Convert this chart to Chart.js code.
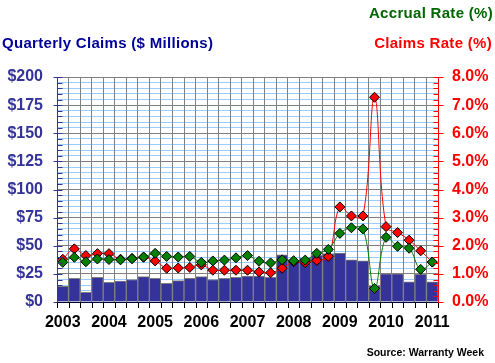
<!DOCTYPE html>
<html>
<head>
<meta charset="utf-8">
<script src="https://cdn.jsdelivr.net/npm/chart.js@4"></script>
<style>
  body { margin: 0; background: #fff; }
  #wrap { position: relative; width: 495px; height: 363px; }
  .lbl { position: absolute; font-family: "Liberation Sans", Arial, sans-serif; font-weight: bold; white-space: nowrap; line-height: 1; }
  .ttl { font-size: 15px; letter-spacing: 0.3px; }
</style>
</head>
<body>
<div id="wrap">
  <canvas id="myChart" width="495" height="363"></canvas>
  <div class="lbl ttl" style="right:2px; top:5px; color:#006600;">Accrual Rate (%)</div>
  <div class="lbl ttl" style="right:3px; top:35px; color:#ff0000;">Claims Rate (%)</div>
  <div class="lbl ttl" style="left:2px; top:35px; color:#000099;">Quarterly Claims ($ Millions)</div>
  <div class="lbl" style="right:11px; top:347px; font-size:10.5px; color:#000;">Source: Warranty Week</div>
</div>
<script>
// quarters 2003 Q1 .. 2011 Q1
var quarters = [
  '2003 Q1','2003 Q2','2003 Q3','2003 Q4',
  '2004 Q1','2004 Q2','2004 Q3','2004 Q4',
  '2005 Q1','2005 Q2','2005 Q3','2005 Q4',
  '2006 Q1','2006 Q2','2006 Q3','2006 Q4',
  '2007 Q1','2007 Q2','2007 Q3','2007 Q4',
  '2008 Q1','2008 Q2','2008 Q3','2008 Q4',
  '2009 Q1','2009 Q2','2009 Q3','2009 Q4',
  '2010 Q1','2010 Q2','2010 Q3','2010 Q4',
  '2011 Q1'
];

// quarterly claims ($ millions)
var claims = [14, 21, 8.5, 22, 17.5, 18.5, 20, 22.5, 21, 16.5, 19, 21, 22.5, 20, 21, 22,
  23, 23, 22, 42, 37, 39, 41.5, 43, 43.5, 37.5, 36.5, 14.5, 25, 25, 18, 24.5, 18];

// claims rate (%)
var claimsRate = [1.52, 1.89, 1.65, 1.72, 1.72, 1.52, 1.55, 1.59, 1.46, 1.20, 1.21, 1.23, 1.32, 1.13, 1.13, 1.13,
  1.13, 1.07, 1.04, 1.20, 1.43, 1.40, 1.48, 1.62, 3.38, 3.06, 3.06, 7.28, 2.68, 2.47, 2.20, 1.82, 1.42];

// accrual rate (%)
var accrualRate = [1.41, 1.59, 1.43, 1.53, 1.51, 1.50, 1.54, 1.60, 1.73, 1.62, 1.60, 1.62, 1.41, 1.46, 1.49, 1.57,
  1.65, 1.45, 1.39, 1.50, 1.47, 1.49, 1.73, 1.87, 2.44, 2.64, 2.60, 0.48, 2.30, 1.98, 1.91, 1.16, 1.42];

var tickFont = { family: 'Liberation Sans', size: 16, weight: 'bold' };

// axis lines and tick marks like the original
var axisTicks = {
  id: 'axisTicks',
  afterDatasetsDraw: function(chart) {
    var ctx = chart.ctx, a = chart.chartArea;
    var y = chart.scales.y, y2 = chart.scales.y2, x = chart.scales.x;
    ctx.save();
    ctx.lineWidth = 1;

    // bottom ticks at each quarter boundary
    ctx.strokeStyle = '#000';
    ctx.beginPath();
    for (var i = 0; i <= quarters.length; i++) {
      var px = Math.round(x.getPixelForValue(i - 0.5)) + 0.5;
      ctx.moveTo(px, a.bottom);
      ctx.lineTo(px, a.bottom + 6);
    }
    ctx.stroke();

    // left axis
    ctx.strokeStyle = '#333399';
    ctx.beginPath();
    var lx = Math.round(a.left) + 0.5;
    ctx.moveTo(lx, a.top); ctx.lineTo(lx, a.bottom);
    for (var v = 0; v <= 200; v += 5) {
      var py = Math.round(y.getPixelForValue(v)) + 0.5;
      if (v % 25 === 0) { ctx.moveTo(lx - 4, py); ctx.lineTo(lx + 5, py); }
      else { ctx.moveTo(lx, py); ctx.lineTo(lx + 5, py); }
    }
    ctx.stroke();

    // right axis
    ctx.strokeStyle = '#ff0000';
    ctx.beginPath();
    var rx = Math.round(a.right) + 0.5;
    ctx.moveTo(rx, a.top); ctx.lineTo(rx, a.bottom);
    for (var k = 0; k <= 40; k++) {
      var qy = Math.round(y2.getPixelForValue(k * 0.2)) + 0.5;
      if (k % 5 === 0) { ctx.moveTo(rx - 5, qy); ctx.lineTo(rx + 5, qy); }
      else { ctx.moveTo(rx - 5, qy); ctx.lineTo(rx, qy); }
    }
    ctx.stroke();

    // bottom axis line
    ctx.strokeStyle = '#000033';
    ctx.beginPath();
    var by = Math.round(a.bottom) + 0.5;
    ctx.moveTo(a.left, by); ctx.lineTo(a.right, by);
    ctx.stroke();
    ctx.restore();
  }
};

var ctx = document.getElementById('myChart').getContext('2d');
var myChart = new Chart(ctx, {
  data: {
    labels: quarters,
    datasets: [{
      type: 'line',
      label: 'Accrual Rate (%)',
      data: accrualRate,
      yAxisID: 'y2',
      order: 0,
      borderColor: '#008000',
      borderWidth: 1,
      backgroundColor: '#008000',
      pointStyle: 'rectRot',
      pointRadius: 5,
      pointBorderColor: '#000',
      pointBorderWidth: 1,
      tension: 0.4
    }, {
      type: 'line',
      label: 'Claims Rate (%)',
      data: claimsRate,
      yAxisID: 'y2',
      order: 1,
      borderColor: '#ff0000',
      borderWidth: 1,
      backgroundColor: '#ff0000',
      pointStyle: 'rectRot',
      pointRadius: 5,
      pointBorderColor: '#000',
      pointBorderWidth: 1,
      tension: 0.4
    }, {
      type: 'bar',
      label: 'Quarterly Claims ($ Millions)',
      data: claims,
      yAxisID: 'y',
      order: 2,
      backgroundColor: '#333399',
      borderColor: '#808080',
      borderWidth: 1,
      barPercentage: 1,
      categoryPercentage: 1
    }]
  },
  options: {
    responsive: false,
    animation: false,
    layout: { padding: { top: 77, left: 0, right: 0, bottom: 0 } },
    plugins: { legend: { display: false }, tooltip: { enabled: false } },
    scales: {
      x: {
        offset: true,
        grid: { color: '#808080', drawTicks: false, z: -1, offset: true },
        border: { display: false },
        ticks: {
          autoSkip: false, maxRotation: 0, padding: 11,
          color: '#000', font: tickFont,
          callback: function(val, i) {
            var q = quarters[i];
            return q.indexOf('Q1') > 0 ? q.slice(0, 4) : '';
          }
        },
        afterFit: function(s) { s.height = 61; }
      },
      y: {
        position: 'left',
        min: 0, max: 200,
        grid: {
          drawTicks: false, z: -2,
          color: function(c) { return c.tick && c.tick.value % 25 === 0 ? '#808080' : '#99ccff'; }
        },
        border: { display: false },
        ticks: {
          stepSize: 5, autoSkip: false, padding: 14, color: '#333399', font: tickFont,
          callback: function(v) { return v % 25 === 0 ? '$' + v : ''; }
        },
        afterFit: function(s) { s.width = 57; }
      },
      y2: {
        position: 'right',
        min: 0, max: 8,
        grid: { drawOnChartArea: false, drawTicks: false },
        border: { display: false },
        ticks: {
          stepSize: 1, autoSkip: false, padding: 14, color: '#ff0000', font: tickFont,
          callback: function(v) { return v.toFixed(1) + '%'; }
        },
        afterFit: function(s) { s.width = 57; }
      }
    }
  },
  plugins: [axisTicks]
});
</script>
</body>
</html>
